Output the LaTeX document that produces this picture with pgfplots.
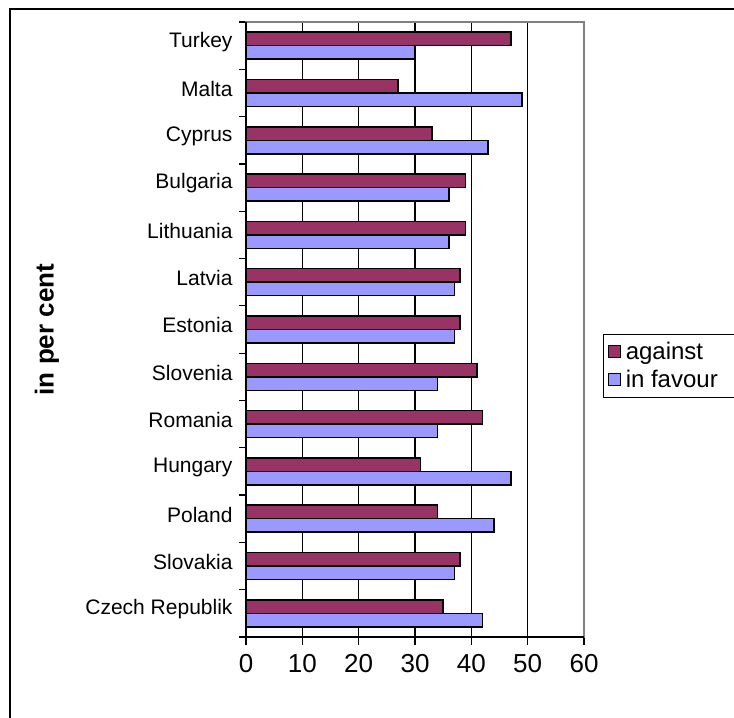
\documentclass[border=0pt]{standalone}
\usepackage{fontspec}
\setmainfont{Liberation Sans}
\usepackage{pgfplots}
\pgfplotsset{compat=1.18}
\definecolor{against}{HTML}{993366}
\definecolor{favour}{HTML}{9999FF}

\begin{document}
\begin{tikzpicture}[x=1bp,y=1bp]
\path[use as bounding box] (0,0) rectangle (734,718);
% outer chart frame (runs off the right and bottom edges)
\draw[line width=2bp] (10,-20) -- (10,709) -- (760,709);
\begin{axis}[
    at={(246bp,81bp)}, anchor=south west,
    scale only axis,
    width=338bp,
    height=615bp,
    xbar,
    bar width=13.5bp,
    xmin=0, xmax=60,
    xtick={0,10,...,60},
    ymin=-0.5, ymax=12.5,
    ytick={0,...,12},
    yticklabels={Czech Republik, Slovakia, Poland, Hungary, Romania, Slovenia,
        Estonia, Latvia, Lithuania, Bulgaria, Cyprus, Malta, Turkey},
    minor ytick={-0.5,0.5,...,12.5},
    tick align=outside,
    xtick pos=bottom, ytick pos=left,
    major tick length=8bp, minor tick length=7bp,
    every major y tick/.append style={draw=none},
    tick style={black, line width=1.2bp},
    xmajorgrids,
    major x grid style={black, line width=1.3bp},
    axis line style={draw=gray, line width=1.5bp},
    /pgf/number format/assume math mode=true,
    xticklabel style={font=\fontsize{26bp}{30bp}\selectfont, yshift=-6bp},
    yticklabel style={font=\fontsize{21bp}{24bp}\selectfont, yshift=4bp, xshift=-2bp},
    ylabel={in per cent},
    ylabel style={at={(axis description cs:-0.589,0.5)}, anchor=center,
        font=\fontsize{26bp}{30bp}\selectfont\bfseries},
    legend entries={against, in favour\hspace*{12bp}},
    legend style={at={(axis description cs:1.0562,0.4927)}, anchor=north west,
        draw=black, line width=1bp,
        font=\fontsize{24bp}{28bp}\selectfont,
        row sep=5bp, inner xsep=4bp, inner ysep=6bp},
    legend cell align=left,
    legend image code/.code={
        \draw[#1, draw=black, line width=1bp] (1bp,-6bp) rectangle (13bp,6bp);
        \path (16bp,0bp);},
    after end axis/.code={
        \draw[black, line width=1.5bp] (rel axis cs:0,1) -- (rel axis cs:0,0) -- (rel axis cs:1,0);
    },
]
\addplot[fill=against, draw=black, line width=1.5bp, bar shift=6.75bp] coordinates {
    (35,0) (38,1) (34,2) (31,3) (42,4) (41,5) (38,6)
    (38,7) (39,8) (39,9) (33,10) (27,11) (47,12)
};
\addplot[fill=favour, draw=black, line width=1.5bp, bar shift=-6.75bp] coordinates {
    (42,0) (37,1) (44,2) (47,3) (34,4) (34,5) (37,6)
    (37,7) (36,8) (36,9) (43,10) (49,11) (30,12)
};
\end{axis}
\end{tikzpicture}
\end{document}
